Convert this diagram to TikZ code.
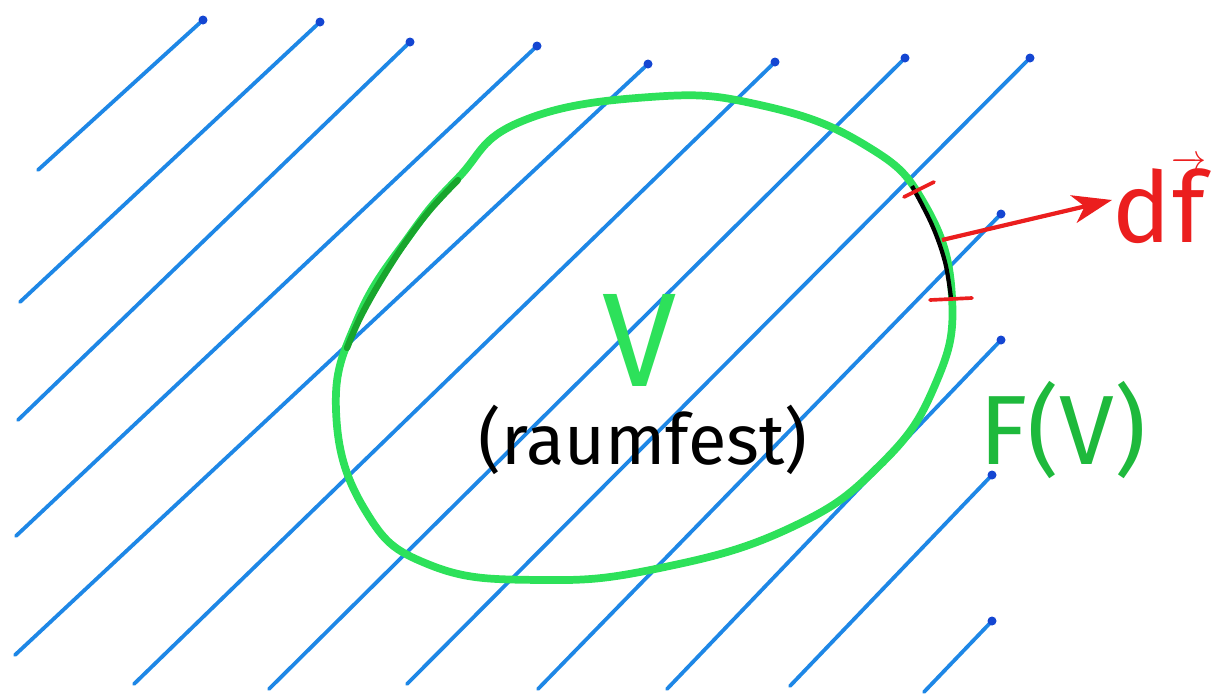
\documentclass[tikz,border=0pt]{standalone}
\usepackage{fontspec}
\setmainfont{Fira Sans}
\usetikzlibrary{arrows.meta}
\definecolor{hatch}{RGB}{30,135,230}
\definecolor{hatchdark}{RGB}{20,70,210}
\definecolor{rim}{RGB}{45,225,90}
\definecolor{rimdark}{RGB}{25,165,45}
\definecolor{ftext}{RGB}{30,185,60}
\definecolor{pen}{RGB}{235,30,30}
\tikzset{
  hatchline/.style={draw=hatch, line width=2.7pt, line cap=round},
  rimline/.style={draw=rim, line width=5.5pt, line cap=round},
  tick/.style={draw=pen, line width=2.6pt, line cap=round},
  handtext/.style={inner sep=0pt, font=\fontsize{50}{60}\selectfont}
}
\begin{document}
\begin{tikzpicture}[x=0.025cm, y=-0.025cm]
\useasboundingbox (0,0) rectangle (1232,699);
% hatching
\foreach \a/\b/\c/\d in {
  38/170/203/20, 20/302/320/22, 18/420/410/42, 16/536/537/46,
  15/655/648/64, 134/684/775/62, 269/689/905/58, 407/684/1030/58,
  538/689/1001/214, 667/689/1001/340, 790/686/992/475, 924/692/992/621}{
  \draw[hatchline] (\a,\b) -- (\c,\d);
  \fill[hatchdark] (\c,\d) circle (4.5);
}
% boundary F(V)
\draw[rimline] plot[smooth cycle, tension=0.75] coordinates {
  (520,122) (650,97) (760,105) (865,145) (925,205)
  (952,297) (935,385) (880,465) (790,528)
  (660,568) (540,580) (430,565) (365,510) (336,410)
  (358,318) (410,235) (458,178)};
\draw[draw=rimdark, line width=4.5pt, line cap=round] plot[smooth, tension=0.6] coordinates {
  (458,180) (430,210) (405,243) (380,282) (360,318) (347,348)};
% surface element
\draw[line width=3pt, draw=black] plot[smooth, tension=0.6] coordinates {
  (912,186) (932,225) (945,262) (951,298)};
\coordinate (t1a) at (904,197);
\coordinate (t1b) at (934,182);
\coordinate (t2a) at (930,300);
\coordinate (t2b) at (972,298);
\draw[tick] (t1a) -- (t1b);
\draw[tick] (t2a) -- (t2b);
% labels
\node[handtext, text=rim, font=\fontsize{95}{100}\selectfont] (V) at (640,340) {V};
\node[handtext, text=black] (raum) at (643,440) {(raumfest)};
\node[handtext, text=ftext, font=\fontsize{70}{80}\selectfont] (FV) at (1063,430) {F(V)};
\node[handtext, text=pen, font=\fontsize{70}{80}\selectfont, anchor=west] (df) at (1112,200) {d$\overrightarrow{\hbox{f}}$};
\coordinate (base) at (942,240);
\draw[draw=pen, line width=3pt, -{Stealth[length=28pt, width=20pt, inset=8pt]}] (base) -- (df.west);
\end{tikzpicture}
\end{document}
